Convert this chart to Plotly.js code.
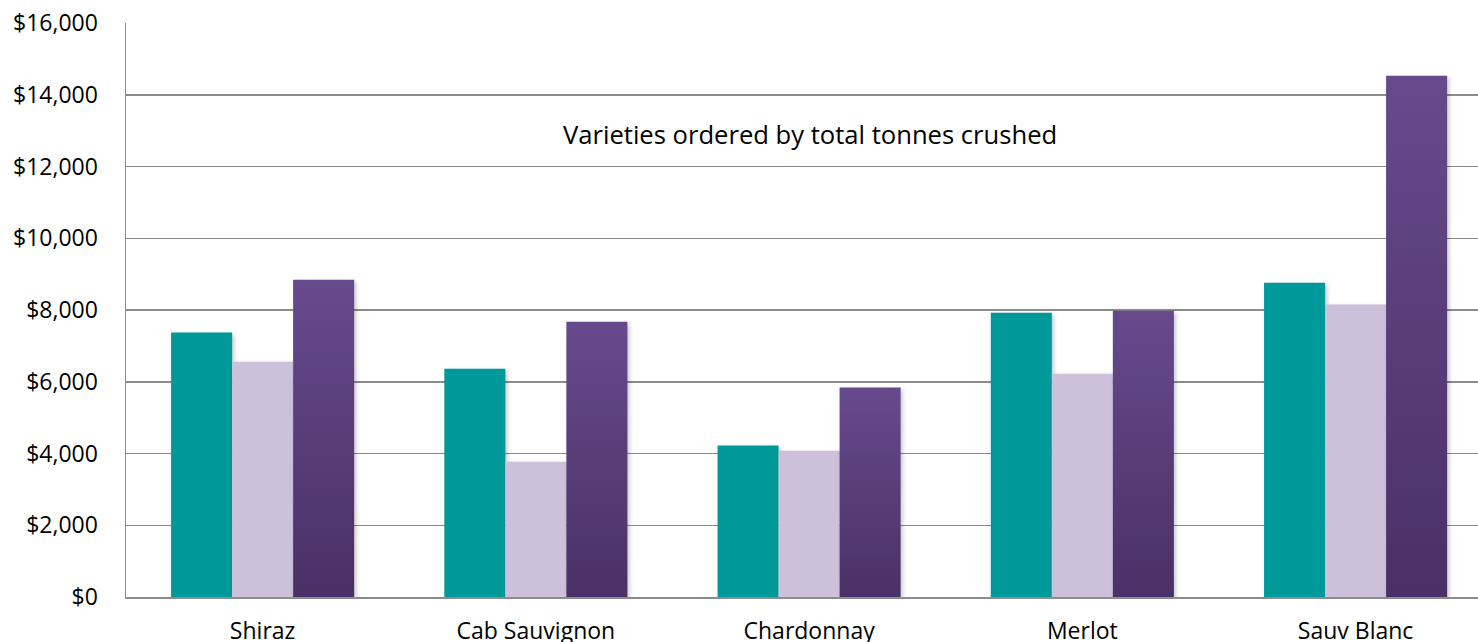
<!DOCTYPE html>
<html>
<head>
<meta charset="utf-8">
<script src="https://cdn.plot.ly/plotly-3.0.1.min.js"></script>
<style>
html,body{margin:0;padding:0;background:#fff;}
#chart{width:1478px;height:642px;}
</style>
</head>
<body>
<div id="chart"></div>
<script>
const categories = ["Shiraz", "Cab Sauvignon", "Chardonnay", "Merlot", "Sauv Blanc"];
const series1 = [7370, 6360, 4220, 7920, 8760];
const series2 = [6560, 3770, 4080, 6220, 8150];
const series3 = [8840, 7670, 5840, 7980, 14530];
const tickVals = [0, 2000, 4000, 6000, 8000, 10000, 12000, 14000, 16000];
const tickText = ["$0", "$2,000", "$4,000", "$6,000", "$8,000", "$10,000", "$12,000", "$14,000", "$16,000"];
const note = "Varieties ordered by total tonnes crushed";

const font = "Open Sans, Noto Sans, sans-serif";
const traces = [
  {type: "bar", x: categories, y: series1, name: "Series 1", marker: {color: "#009999"}},
  {type: "bar", x: categories, y: series2, name: "Series 2", marker: {color: "#CCC0DA"}},
  {type: "bar", x: categories, y: series3, name: "Series 3", marker: {color: "#5A3D7C"}}
];
const layout = {
  width: 1478, height: 642,
  margin: {l: 126, r: 0, t: 23, b: 44.5},
  paper_bgcolor: "#fff", plot_bgcolor: "#fff",
  showlegend: false,
  barmode: "group", bargap: 0.33, bargroupgap: 0,
  font: {family: font, size: 23, color: "#000"},
  xaxis: {
    type: "category", range: [-0.5, 4.448], showgrid: false, zeroline: false,
    showline: true, linecolor: "#8c8c8c", linewidth: 1.5,
    ticks: "", tickfont: {family: font, size: 23, color: "#000"},
    ticklabelstandoff: 13
  },
  yaxis: {
    range: [0, 16000], tickvals: tickVals, ticktext: tickText,
    showgrid: true, gridcolor: "#8c8c8c", gridwidth: 1.5,
    zeroline: false, showline: true, linecolor: "#8c8c8c", linewidth: 1.5,
    ticks: "", tickfont: {family: font, size: 23, color: "#000"},
    ticklabelstandoff: 22, fixedrange: true
  },
  annotations: [{
    text: note, xref: "paper", yref: "y", x: 0.506, y: 12880,
    showarrow: false, font: {family: font, size: 25.6, color: "#000"},
    xanchor: "center", yanchor: "middle"
  }]
};
Plotly.newPlot("chart", traces, layout, {displayModeBar: false, staticPlot: true}).then(function(gd){
  const svg = gd.querySelector("svg.main-svg");
  const ns = "http://www.w3.org/2000/svg";
  let defs = svg.querySelector("defs");
  if (!defs) { defs = document.createElementNS(ns, "defs"); svg.insertBefore(defs, svg.firstChild); }
  const grad = document.createElementNS(ns, "linearGradient");
  grad.setAttribute("id", "purpleGrad");
  grad.setAttribute("x1", "0"); grad.setAttribute("y1", "0");
  grad.setAttribute("x2", "0"); grad.setAttribute("y2", "1");
  [["0%", "#664A8C"], ["100%", "#4A3066"]].forEach(function(s){
    const st = document.createElementNS(ns, "stop");
    st.setAttribute("offset", s[0]); st.setAttribute("stop-color", s[1]);
    grad.appendChild(st);
  });
  defs.appendChild(grad);
  const traceGroups = gd.querySelectorAll(".barlayer .trace");
  traceGroups.forEach(function(tg, i){
    tg.querySelectorAll("path").forEach(function(p){
      p.style.filter = "drop-shadow(2px 2px 2px rgba(0,0,0,0.22))";
      if (i === 2) p.style.fill = "url(#purpleGrad)";
    });
  });
});
</script>
</body>
</html>
